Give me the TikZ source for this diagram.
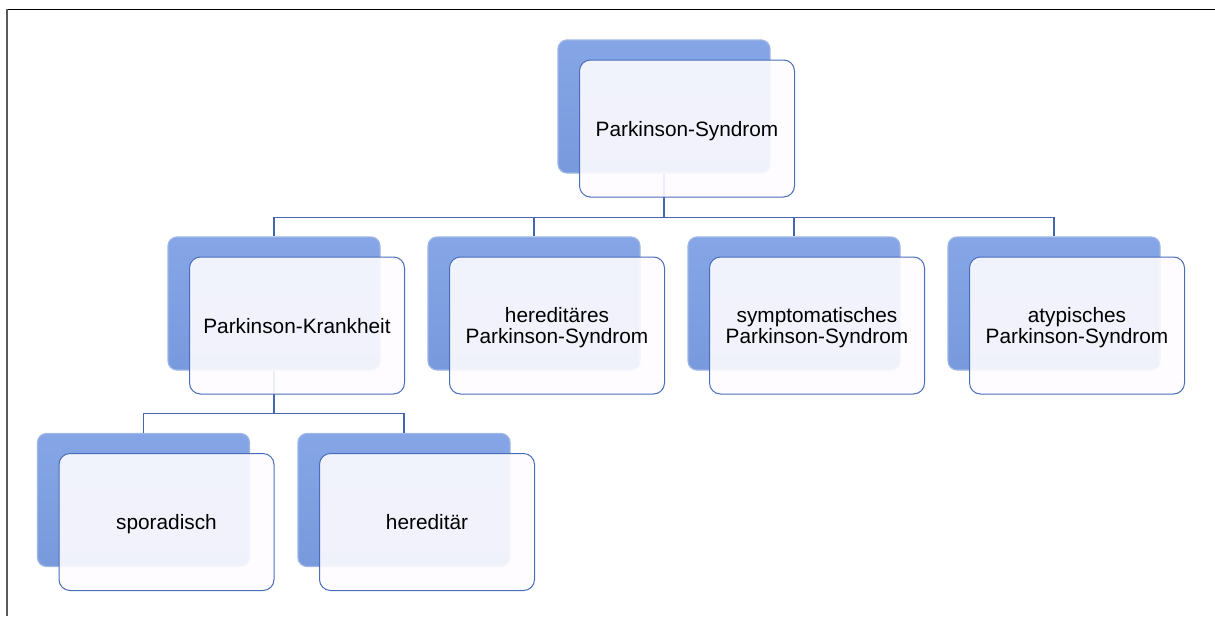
\documentclass[tikz,border=0pt]{standalone}
\usepackage{fontspec}
\setmainfont{Liberation Sans}
\usepackage{xcolor}
\usepackage{tikz}
\usetikzlibrary{positioning, calc}

\definecolor{backtop}{HTML}{85A5E6}
\definecolor{backbot}{HTML}{789ADC}
\definecolor{backedge}{HTML}{9FB5E6}
\definecolor{frontfill}{HTML}{FEFCFF}
\definecolor{frontedge}{HTML}{4A6DB8}
\definecolor{linkblue}{HTML}{4467AE}

\begin{document}
\begin{tikzpicture}[
    x=1pt, y=-1pt,
    back/.style={rectangle, rounded corners=9pt, minimum width=212pt,
      minimum height=133pt, draw=backedge, line width=1.2pt,
      top color=backtop, bottom color=backbot},
    front/.style={rectangle, rounded corners=11pt, minimum width=215pt,
      minimum height=137pt, draw=frontedge, line width=1pt, fill=frontfill,
      fill opacity=0.9, text opacity=1, align=center, text depth=0pt,
      font=\fontsize{20.8}{21}\selectfont},
    link/.style={draw=linkblue, line width=1.2pt}
]
\useasboundingbox (0,0) rectangle (1215,616);

% frame
\draw[black, line width=1.5pt] (6.5,9.5) -- (1215,9.5);
\draw[black!65, line width=2pt] (6.5,9) -- (6.5,616);

% back boxes
\node[back] (syn-b) at (664,106.5) {};
\node[back] (pk-b) at (274,303.5) {};
\node[back] (hps-b) at (534,303.5) {};
\node[back] (sps-b) at (794,303.5) {};
\node[back] (aps-b) at (1054,303.5) {};
\node[back] (spor-b) at (143.5,500) {};
\node[back] (hered-b) at (404,500) {};

% connectors
\draw[link] (syn-b.south) -- ++(0,44) -| (pk-b.north);
\draw[link] (syn-b.south) -- ++(0,44) -| (hps-b.north);
\draw[link] (syn-b.south) -- ++(0,44) -| (sps-b.north);
\draw[link] (syn-b.south) -- ++(0,44) -| (aps-b.north);
\draw[link] (pk-b.south) -- ++(0,43) -| (spor-b.north);
\draw[link] (pk-b.south) -- ++(0,43) -| (hered-b.north);

% front boxes
\node[front] (syn) at ($(syn-b)+(23,22)$) {Parkinson-Syndrom};
\node[front] (pk) at ($(pk-b)+(23,22)$) {Parkinson-Krankheit};
\node[front] (hps) at ($(hps-b)+(23,22)$) {hereditäres\\Parkinson-Syndrom};
\node[front] (sps) at ($(sps-b)+(23,22)$) {symptomatisches\\Parkinson-Syndrom};
\node[front] (aps) at ($(aps-b)+(23,22)$) {atypisches\\Parkinson-Syndrom};
\node[front] (spor) at ($(spor-b)+(23,22)$) {sporadisch};
\node[front] (hered) at ($(hered-b)+(23,22)$) {hereditär};
\end{tikzpicture}
\end{document}
